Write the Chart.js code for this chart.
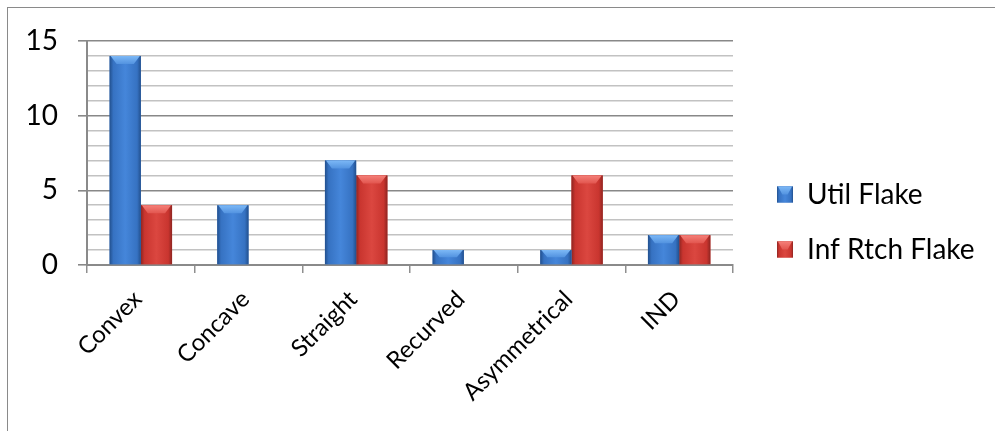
<!DOCTYPE html>
<html>
<head>
<meta charset="utf-8">
<script src="https://cdn.jsdelivr.net/npm/chart.js@4.4.1/dist/chart.umd.min.js"></script>
<style>
  html, body { margin: 0; padding: 0; background: #fff; overflow: hidden; }
  #wrap { position: relative; width: 995px; height: 431px; }
  #frame { position: absolute; left: 7px; top: 7px; width: 1010px; height: 440px;
           border: 1px solid #8a8a8a; box-sizing: border-box; }
  canvas { position: absolute; left: 0; top: 0; }
</style>
</head>
<body>
<div id="wrap">
  <div id="frame"></div>
  <canvas id="chart" width="995" height="431"></canvas>
</div>
<script>
// Edge shapes and counts per flake type
const categories = ['Convex', 'Concave', 'Straight', 'Recurved', 'Asymmetrical', 'IND'];
const utilFlake = [14, 4, 7, 1, 1, 2];
const infRtchFlake = [4, 0, 6, 0, 6, 2];
const yTickLabels = [0, 5, 10, 15];
const seriesNames = ['Util Flake', 'Inf Rtch Flake'];

const FONT = 'Lato, "Open Sans", sans-serif';
const LEGEND_SIZE = 28;
const LEGEND_PAD = 27;
const LEGEND_BOX = 16;
const PLOT_RIGHT = 733;
const GAP = 17;

// shaded colour sets for the two series
const tones = [
  { base: '#3a74c4', edge: '#22508e', body: '#3672c2', mid: '#4586da', capTop: '#7cb8f6', capBot: '#5393e0' },
  { base: '#cf3a35', edge: '#8e2521', body: '#c9352f', mid: '#db4740', capTop: '#f58079', capBot: '#e2564f' }
];

function bevelRect(ctx, l, t, w, h, tone) {
  const r = l + w;
  const g = ctx.createLinearGradient(l, 0, r, 0);
  g.addColorStop(0, tone.edge);
  g.addColorStop(0.12, tone.body);
  g.addColorStop(0.5, tone.mid);
  g.addColorStop(0.88, tone.body);
  g.addColorStop(1, tone.edge);
  ctx.fillStyle = g;
  ctx.fillRect(l, t, w, h);
  const b = Math.min(8, h / 2);
  const inset = Math.min(7, w / 3);
  const cg = ctx.createLinearGradient(0, t, 0, t + b);
  cg.addColorStop(0, tone.capTop);
  cg.addColorStop(1, tone.capBot);
  ctx.fillStyle = cg;
  ctx.beginPath();
  ctx.moveTo(l + 1, t);
  ctx.lineTo(r - 1, t);
  ctx.lineTo(r - inset, t + b);
  ctx.lineTo(l + inset, t + b);
  ctx.closePath();
  ctx.fill();
}

// paints each bar with a bevelled, shaded face
const bevelBars = {
  id: 'bevelBars',
  afterDatasetDraw(chart, args) {
    const ctx = chart.ctx;
    const tone = tones[args.index];
    ctx.save();
    args.meta.data.forEach(bar => {
      const { x, y, base, width } = bar.getProps(['x', 'y', 'base', 'width'], true);
      const h = base - y;
      if (h < 0.5) return;
      bevelRect(ctx, x - width / 2, y, width, h, tone);
    });
    ctx.restore();
  },
  afterDraw(chart) {
    const lg = chart.legend;
    if (!lg || !lg.legendHitBoxes) return;
    const ctx = chart.ctx;
    ctx.save();
    lg.legendHitBoxes.forEach((hb, i) => {
      const top = hb.top + Math.max((LEGEND_SIZE - LEGEND_BOX) / 2, 0);
      bevelRect(ctx, hb.left, top, LEGEND_BOX, LEGEND_BOX, tones[i]);
    });
    ctx.restore();
  }
};

Chart.defaults.color = '#000';
Chart.defaults.font.family = FONT;

const chart = new Chart(document.getElementById('chart'), {
  type: 'bar',
  data: {
    labels: categories,
    datasets: [
      { label: seriesNames[0], data: utilFlake, backgroundColor: tones[0].base, borderWidth: 0 },
      { label: seriesNames[1], data: infRtchFlake, backgroundColor: tones[1].base, borderWidth: 0 }
    ]
  },
  options: {
    responsive: false,
    animation: false,
    devicePixelRatio: 1,
    layout: { padding: { left: 0, top: 41, right: 20, bottom: 28 } },
    datasets: { bar: { categoryPercentage: 0.58, barPercentage: 1.0 } },
    plugins: {
      tooltip: { enabled: false },
      legend: {
        position: 'right',
        maxWidth: 400,
        labels: {
          boxWidth: LEGEND_BOX,
          boxHeight: LEGEND_BOX,
          padding: LEGEND_PAD,
          color: '#000',
          font: { size: LEGEND_SIZE }
        }
      }
    },
    scales: {
      x: {
        grid: { display: true, drawOnChartArea: false, drawTicks: true, tickLength: 8, color: '#8f8f8f', lineWidth: 1.5, offset: true },
        border: { display: true, color: '#8a8a8a', width: 2 },
        ticks: { font: { size: 24 }, color: '#000', maxRotation: 45, minRotation: 45, autoSkip: false, padding: 12, labelOffset: -3 },
        afterFit(s) { s.height = 431 - 28 - 265; }
      },
      y: {
        min: 0,
        max: 15,
        grid: {
          color: c => (c.tick && c.tick.value % 5 === 0) ? '#888888' : '#c2c2c2',
          tickColor: c => (c.tick && c.tick.value % 5 === 0) ? '#888888' : 'rgba(0,0,0,0)',
          lineWidth: 1.6,
          tickLength: 9,
          drawTicks: true
        },
        border: { display: true, color: '#8a8a8a', width: 2 },
        ticks: {
          stepSize: 1,
          autoSkip: false,
          padding: 20,
          font: { size: 28 },
          color: '#000',
          callback: v => yTickLabels.includes(v) ? String(v) : ''
        },
        afterFit(s) { s.width = 87; }
      },
      gap: {
        type: 'linear',
        position: 'right',
        display: true,
        grid: { display: false, drawTicks: false },
        border: { display: false },
        ticks: { display: false },
        afterFit(s) { s.width = GAP; }
      }
    }
  },
  plugins: [bevelBars]
});

// trim the right margin so the plot ends where the legend column begins
const shift = chart.chartArea.right - PLOT_RIGHT;
if (Math.abs(shift) > 0.5) {
  chart.options.layout.padding.right = Math.max(0, chart.options.layout.padding.right + shift);
  chart.update();
}
</script>
</body>
</html>
